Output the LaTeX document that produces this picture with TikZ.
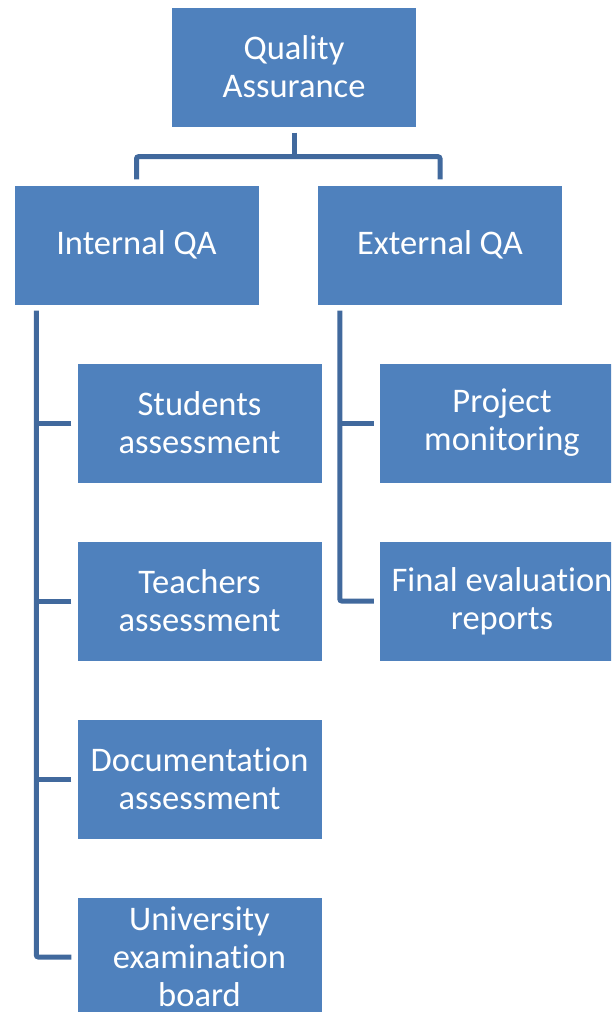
\documentclass[tikz,border=0pt]{standalone}
\usepackage{fontspec}
\setmainfont{Carlito}[Ligatures={NoCommon}]
\definecolor{boxblue}{HTML}{4F81BD}
\definecolor{lineblue}{HTML}{41699D}
\begin{document}
\begin{tikzpicture}[x=1pt,y=-1pt,
  box/.style={fill=boxblue, draw=none, text=white, align=center,
    minimum width=244pt, minimum height=119pt, inner sep=0pt,
    font=\fontsize{34.5}{38}\selectfont},
  conn/.style={draw=lineblue, line width=5pt, rounded corners=2pt}]
\useasboundingbox (0,0) rectangle (611,1012);
\clip (0,0) rectangle (611,1012);
\node[box] (qa)  at (294,67)  {Quality\\Assurance};
\node[box] (int) at (136.5,245) {Internal QA};
\node[box] (ext) at (440,245) {External QA};
\node[box] (stu) at (199.5,423) {Students\\assessment};
\node[box] (tea) at (199.5,601) {Teachers\\assessment};
\node[box] (doc) at (199.5,779) {Documentation\\assessment};
\node[box] (uni) at (199.5,957) {University\\examination\\board};
\node[box] (pro) at (502,423) {Project\\monitoring};
\node[box] (fin) at (502,601) {Final evaluation\\reports};
% top connectors
\draw[conn] ([yshift=-6pt]qa.south) -- ++(0,24) coordinate (j);
\draw[conn] ([yshift=6pt]int.north) |- (j) -| ([yshift=6pt]ext.north);
% internal
\coordinate (it) at ([xshift=22pt,yshift=-6pt]int.south west);
\draw[conn] (it) |- ([xshift=-6pt]uni.west);
\draw[conn] ([xshift=-6pt]stu.west) -- (stu.west -| it);
\draw[conn] ([xshift=-6pt]tea.west) -- (tea.west -| it);
\draw[conn] ([xshift=-6pt]doc.west) -- (doc.west -| it);
% external
\coordinate (et) at ([xshift=22pt,yshift=-6pt]ext.south west);
\draw[conn] (et) |- ([xshift=-6pt]fin.west);
\draw[conn] ([xshift=-6pt]pro.west) -- (pro.west -| et);
\end{tikzpicture}
\end{document}
